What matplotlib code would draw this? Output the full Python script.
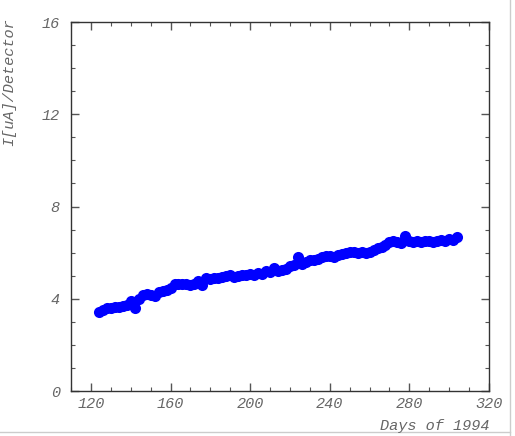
import numpy as np
import matplotlib
matplotlib.use('Agg')
import matplotlib.pyplot as plt
from matplotlib.ticker import MultipleLocator
from matplotlib.lines import Line2D

# day of year and current per detector
days = list(range(124, 305, 2))
current = [3.42, 3.50, 3.60, 3.62, 3.65, 3.63, 3.68, 3.72, 3.92, 3.62,
           4.00, 4.15, 4.20, 4.18, 4.14, 4.28, 4.32, 4.40, 4.48, 4.62,
           4.66, 4.62, 4.64, 4.60, 4.66, 4.78, 4.60, 4.88, 4.86, 4.90,
           4.88, 4.95, 5.00, 5.02, 4.96, 5.00, 5.02, 5.05, 5.06, 5.02,
           5.10, 5.08, 5.20, 5.18, 5.34, 5.20, 5.26, 5.30, 5.42, 5.48,
           5.80, 5.52, 5.58, 5.68, 5.70, 5.72, 5.80, 5.84, 5.86, 5.80,
           5.90, 5.96, 5.98, 6.04, 6.02, 6.00, 6.04, 6.00, 6.04, 6.10,
           6.18, 6.26, 6.34, 6.48, 6.50, 6.44, 6.40, 6.72, 6.50, 6.46,
           6.52, 6.48, 6.50, 6.52, 6.48, 6.50, 6.56, 6.52, 6.58, 6.54,
           6.66]

font = {'family': 'Liberation Mono', 'style': 'italic', 'color': '#666666'}

fig = plt.figure(figsize=(5.15, 4.36), dpi=100)
ax = fig.add_axes([0.1379, 0.1032, 0.8116, 0.8463])

ax.plot(days, current, 'o', color='#0000ff', markersize=8, markeredgewidth=0)

ax.set_xlim(110, 320)
ax.set_ylim(0, 16)
ax.xaxis.set_major_locator(MultipleLocator(40))
ax.xaxis.set_minor_locator(MultipleLocator(10))
ax.yaxis.set_major_locator(MultipleLocator(4))
ax.yaxis.set_minor_locator(MultipleLocator(1))
ax.tick_params(which='both', direction='in', top=True, right=True,
               color='#555555', labelcolor='#666666', labelsize=11)
ax.tick_params(axis='x', pad=4)
ax.tick_params(axis='y', pad=8)
ax.tick_params(which='major', length=6, width=1)
ax.tick_params(which='minor', length=3, width=0.8)
for lab in ax.get_xticklabels() + ax.get_yticklabels():
    lab.set_family('Liberation Mono')
    lab.set_style('italic')
for s in ax.spines.values():
    s.set_color('#333333')
    s.set_linewidth(1)

fig.text(0.018, 0.812, 'I[uA]/Detector', rotation=90, fontsize=11,
         ha='center', va='center', **font)
fig.text(0.951, 0.014, 'Days of 1994', fontsize=11, ha='right', va='baseline', **font)

# light border at right/bottom edges of the picture
fig.add_artist(Line2D([0.99, 0.99], [0.0, 1.0], transform=fig.transFigure, color='#cccccc', lw=1))
fig.add_artist(Line2D([0.0, 0.99], [0.009, 0.009], transform=fig.transFigure, color='#cccccc', lw=1))

fig.savefig('out.png', dpi=100)
